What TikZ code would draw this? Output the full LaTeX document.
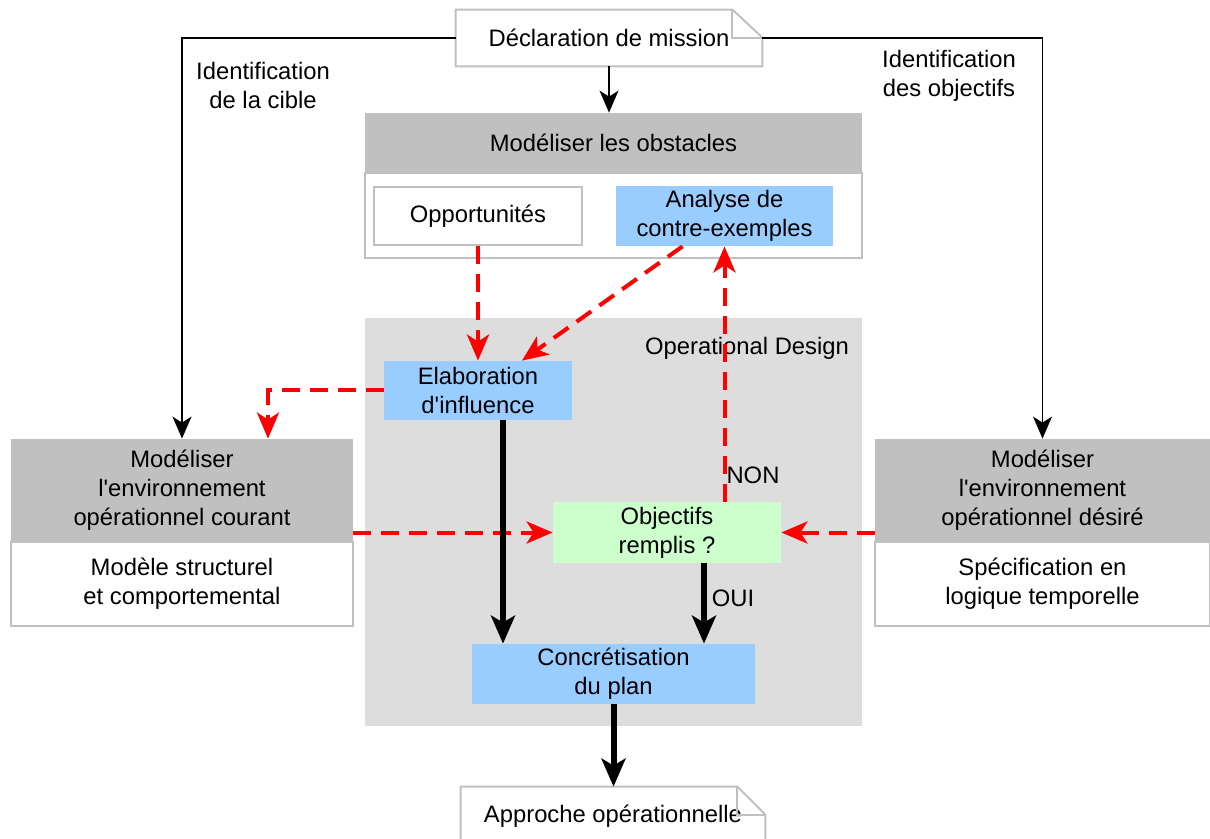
\documentclass[tikz,border=0pt]{standalone}
\usepackage{fontspec}
\setmainfont{Liberation Sans}
\usetikzlibrary{arrows.meta, positioning, calc}
\definecolor{boxgrey}{HTML}{C0C0C0}
\definecolor{areagrey}{HTML}{DDDDDD}
\definecolor{boxblue}{HTML}{99CCFF}
\definecolor{boxgreen}{HTML}{CCFFCC}
\tikzset{%
  x=0.5pt, y=-0.5pt, % one unit is one pixel of the sketch
  every node/.style={font=\fontsize{11.9}{14.5}\selectfont, align=center, inner sep=0pt},
  plainbox/.style={draw=boxgrey, line width=1pt, fill=white},
  headbox/.style={fill=boxgrey},
  bluebox/.style={fill=boxblue},
  greenbox/.style={fill=boxgreen},
  docline/.style={draw=boxgrey, line width=1pt},
  flow/.style={-{Stealth[length=11pt, width=9.5pt, inset=3pt]}, line width=0.75pt},
  mainflow/.style={-{Stealth[length=14pt, width=12pt, inset=3.5pt]}, line width=3pt},
  feedback/.style={-{Stealth[length=13pt, width=11pt, inset=3.5pt]}, red, line width=2pt, dash pattern=on 9pt off 5pt}
}
\newcommand{\apos}{\textquotesingle}

\begin{document}
\begin{tikzpicture}
    \useasboundingbox (0,0) rectangle (1210,839);

    % grey area of the design loop
    \node[fill=areagrey, minimum width=248.5pt, minimum height=204pt] (design) at (613.5,522) {};
    \node (designlabel) at (747,348) {Operational Design};

    % documents
    \node[minimum width=153pt, minimum height=28pt] (mission) at (609,38) {Déclaration de mission};
    \draw[docline] (mission.south west) |- ([xshift=-15pt]mission.north east) -- ([yshift=-14pt]mission.north east) -- (mission.south east) -- cycle;
    \draw[docline] ([xshift=-15pt]mission.north east) |- ([yshift=-14pt]mission.north east);
    \node[minimum width=152pt, minimum height=29pt] (approche) at (613,816) {Approche opérationnelle};
    \draw[docline] (approche.south west) |- ([xshift=-14pt]approche.north east) -- ([yshift=-14pt]approche.north east) -- (approche.south east) -- cycle;
    \draw[docline] ([xshift=-14pt]approche.north east) |- ([yshift=-14pt]approche.north east);

    % obstacles
    \node[plainbox, minimum width=248.5pt, minimum height=42.5pt] (obstbody) at (613.5,215.5) {};
    \node[headbox, minimum width=248.5pt, minimum height=30pt] (obsthead) at (613.5,143) {Modéliser les obstacles};
    \node[plainbox, minimum width=104pt, minimum height=29pt] (opport) at (478,216) {Opportunités};
    \node[bluebox, minimum width=108.5pt, minimum height=30pt] (analyse) at (724.5,216) {Analyse de\\contre-exemples};

    % environments
    \node[plainbox, minimum width=171pt, minimum height=42pt] (courantbody) at (182,584) {Modèle structurel\\et comportemental};
    \node[headbox, minimum width=171pt, minimum height=51.5pt] (courant) at (182,490.5) {Modéliser\\l\apos environnement\\opérationnel courant};
    \node[plainbox, minimum width=167.5pt, minimum height=42pt] (desirebody) at (1042.5,584) {Spécification en\\logique temporelle};
    \node[headbox, minimum width=167.5pt, minimum height=51.5pt] (desire) at (1042.5,490.5) {Modéliser\\l\apos environnement\\opérationnel désiré};

    % design steps
    \node[bluebox, minimum width=94pt, minimum height=29.5pt] (elab) at (478,390.5) {Elaboration\\d\apos influence};
    \node[greenbox, minimum width=114pt, minimum height=30.5pt] (objectifs) at (667,532.5) {Objectifs\\remplis ?};
    \node[bluebox, minimum width=141.5pt, minimum height=30pt] (concret) at (613.5,674) {Concrétisation\\du plan};

    % labels
    \node (ciblelabel) at (263,85) {Identification\\de la cible};
    \node (objlabel) at (949,76) {Identification\\des objectifs};
    \node (nonlabel) at (753,475) {NON};
    \node (ouilabel) at (733,598) {OUI};

    % thin arrows
    \draw[flow] (mission.west) -| (courant.north);
    \draw[flow] (mission.east) -| (desire.north);
    \draw[flow] (mission.south) -- (mission.south |- obsthead.north);

    % dashed red arrows
    \draw[feedback] (opport.south) -- (elab.north);
    \draw[feedback] ([xshift=-21pt]analyse.south) -- ([xshift=22pt]elab.north);
    \draw[feedback] (analyse.south |- objectifs.north) -- (analyse.south);
    \draw[feedback] (elab.west) -| ([xshift=43pt]courant.north);
    \draw[feedback] (courant.east |- objectifs.west) -- (objectifs.west);
    \draw[feedback] (desire.west |- objectifs.east) -- (objectifs.east);

    % thick arrows
    \draw[mainflow] ([xshift=12.5pt]elab.south) -- ([xshift=12.5pt]elab.south |- concret.north);
    \draw[mainflow] ([xshift=18.5pt]objectifs.south) -- ([xshift=18.5pt]objectifs.south |- concret.north);
    \draw[mainflow] (concret.south) -- (concret.south |- approche.north);
\end{tikzpicture}
\end{document}
